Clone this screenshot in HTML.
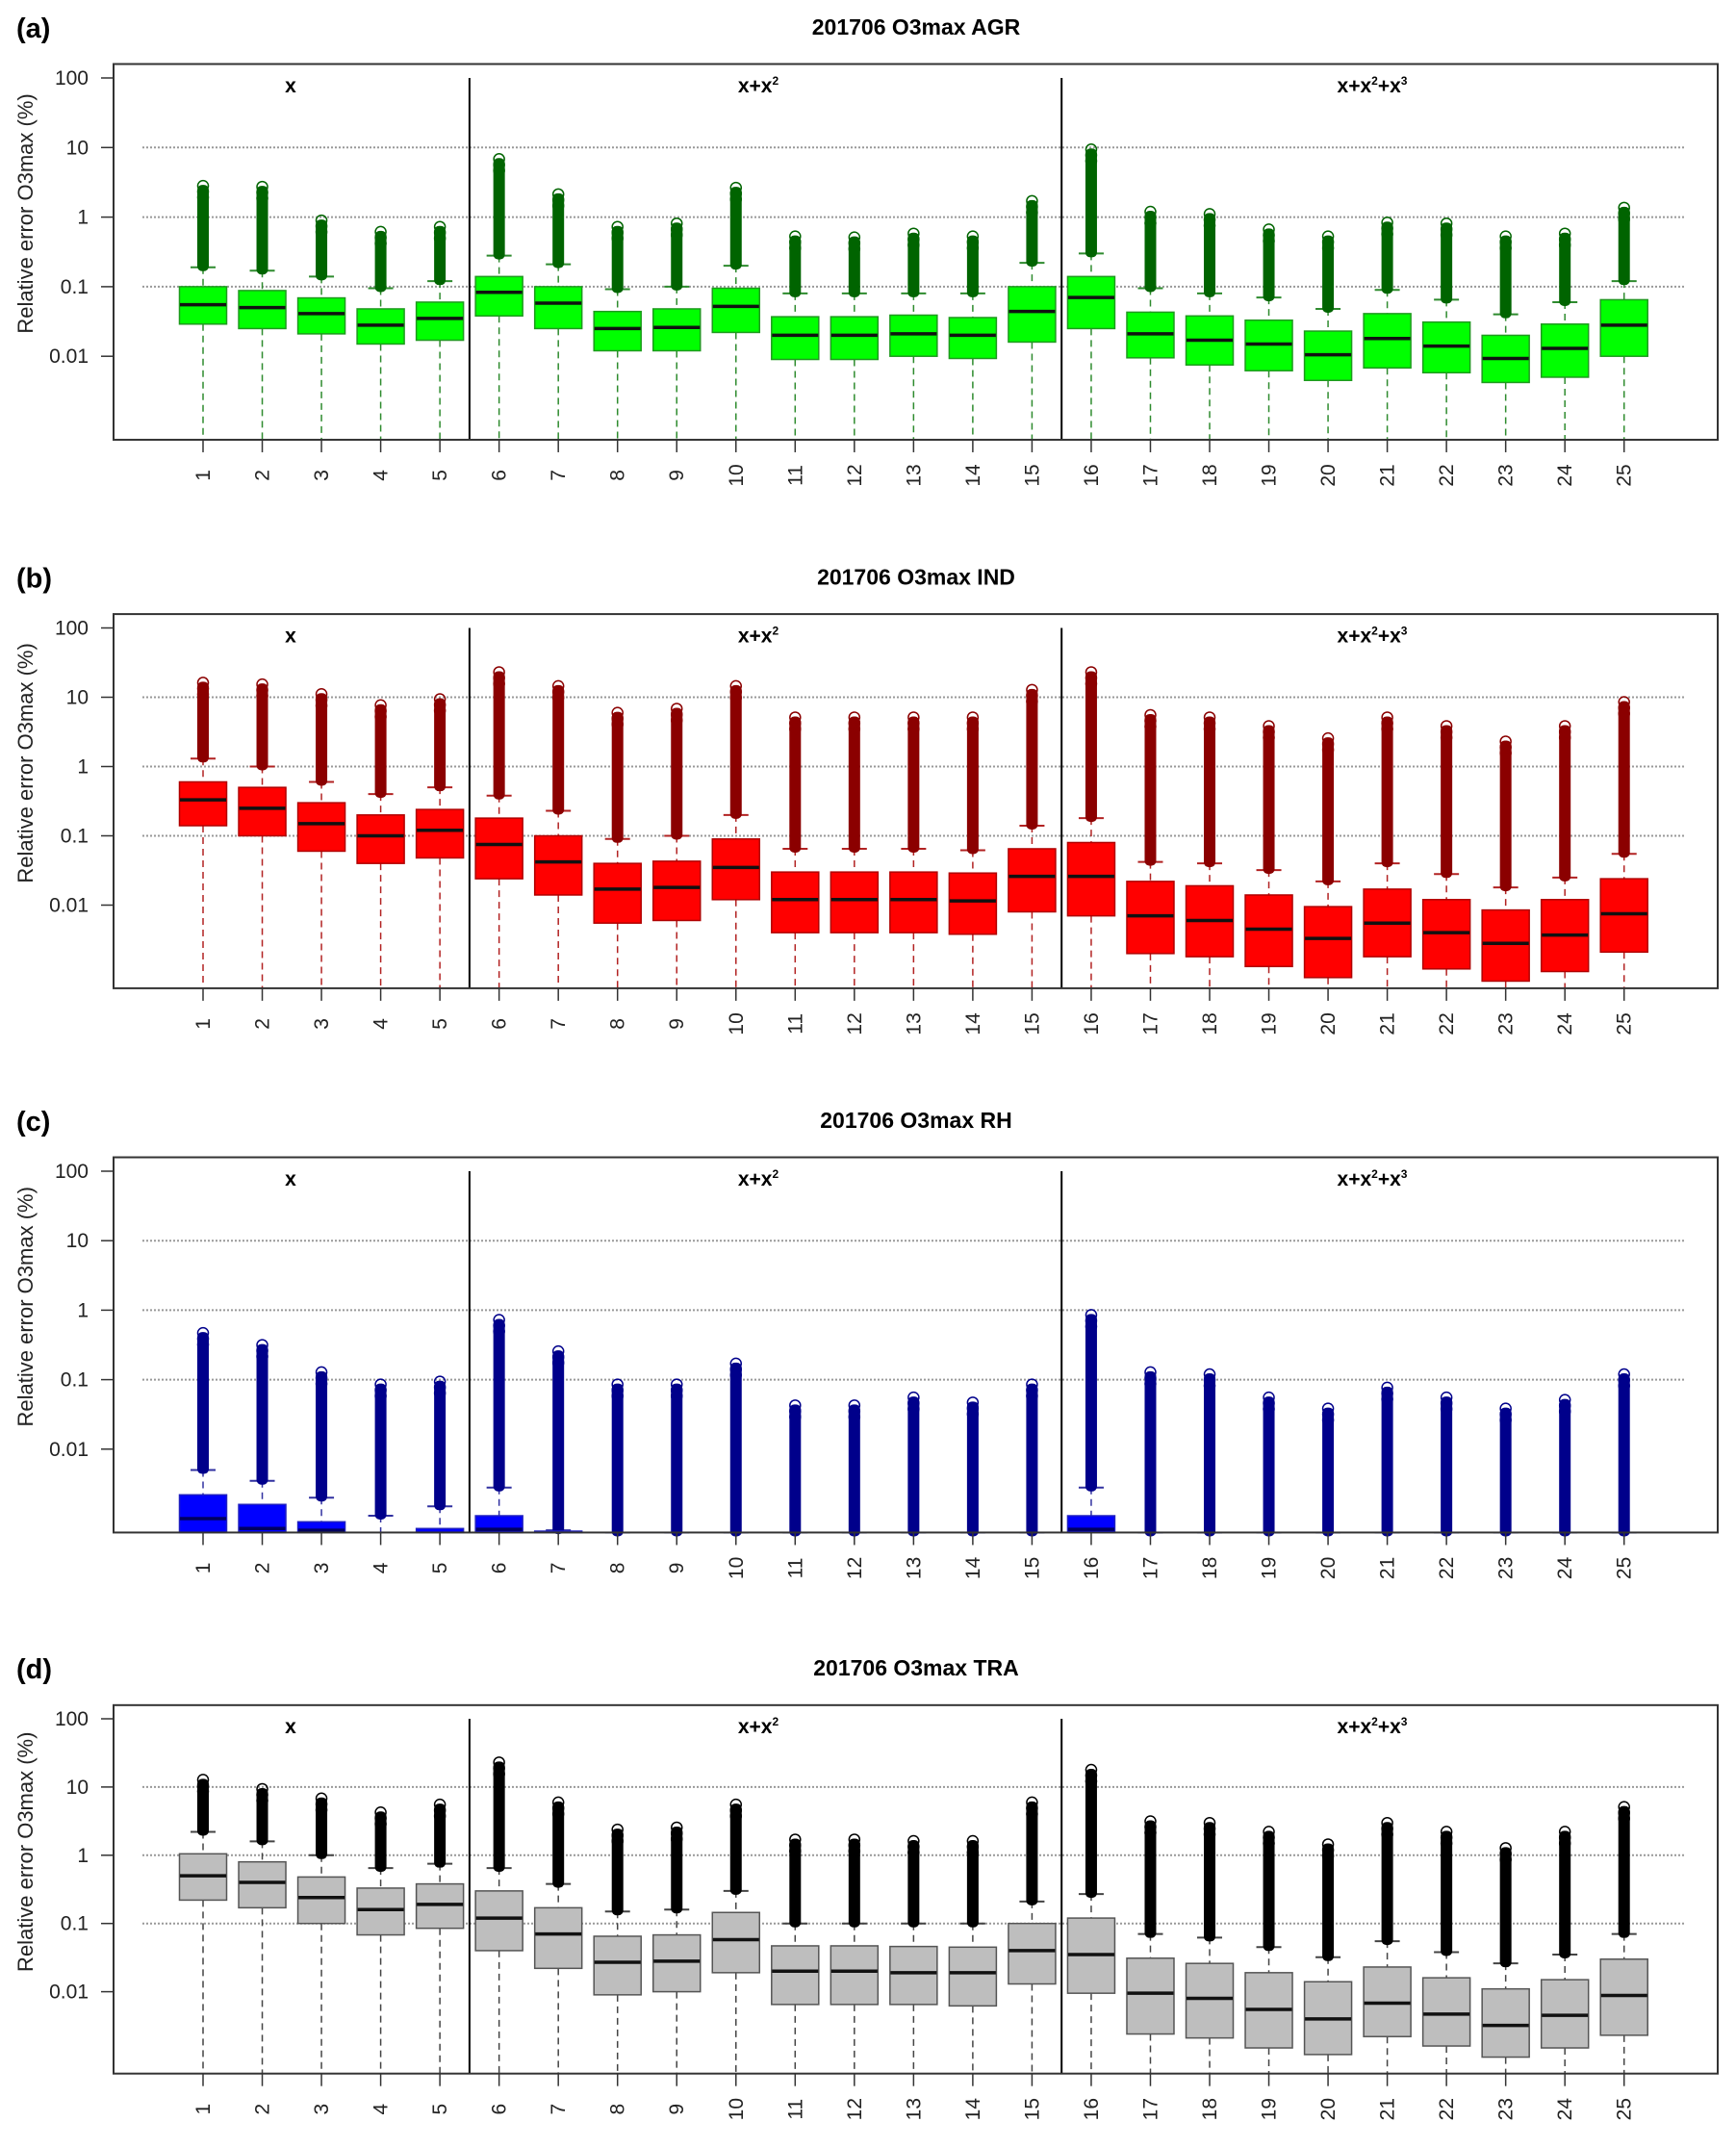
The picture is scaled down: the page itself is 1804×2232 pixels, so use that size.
<!DOCTYPE html>
<html><head><meta charset="utf-8"><style>
html,body{margin:0;padding:0;background:#fff;}
svg{display:block;font-family:"Liberation Sans",Arial,sans-serif;}
</style></head><body>
<svg id="fig" width="1804" height="2232" viewBox="0 0 1804 2232" xmlns="http://www.w3.org/2000/svg"></svg>
<script>
// ---- data: per box [q1, median, q3, upper whisker, max outlier]
const categories = ["1","2","3","4","5","6","7","8","9","10","11","12","13","14","15","16","17","18","19","20","21","22","23","24","25"];
const yTickValues = [100, 10, 1, 0.1, 0.01];
const yTickLabels = ["100", "10", "1", "0.1", "0.01"];
const panelLetters = ["(a)", "(b)", "(c)", "(d)"];
const panelTitles = ["201706 O3max AGR", "201706 O3max IND", "201706 O3max RH", "201706 O3max TRA"];
const agrQ1 = [.029,.025,.021,.015,.017,.038,.025,.012,.012,.022,.009,.009,.01,.0093,.016,.025,.0095,.0075,.0062,.0045,.0068,.0058,.0042,.005,.01];
const agrMed = [.055,.05,.041,.028,.035,.083,.058,.025,.026,.052,.02,.02,.021,.02,.044,.07,.021,.017,.015,.0105,.018,.014,.0093,.013,.028];
const agrQ3 = [.1,.088,.069,.048,.06,.14,.1,.044,.048,.095,.037,.037,.039,.036,.1,.14,.043,.038,.033,.023,.041,.031,.02,.029,.065];
const agrWhi = [.19,.17,.14,.095,.12,.28,.21,.092,.1,.2,.08,.08,.08,.08,.22,.3,.095,.08,.07,.048,.09,.065,.04,.06,.12];
const agrMax = [3.3,3.2,1.05,.72,.85,8,2.5,.85,.95,3.1,.62,.6,.68,.62,2.0,11,1.4,1.3,.78,.62,.98,.95,.62,.68,1.6];
const indQ1 = [.14,.1,.06,.04,.048,.024,.014,.0055,.006,.012,.004,.004,.004,.0038,.008,.007,.002,.0018,.0013,.0009,.0018,.0012,.0008,.0011,.0021];
const indMed = [.33,.25,.15,.1,.12,.075,.042,.017,.018,.035,.012,.012,.012,.0115,.026,.026,.007,.006,.0045,.0033,.0055,.004,.0028,.0037,.0075];
const indQ3 = [.6,.5,.3,.2,.24,.18,.1,.04,.043,.09,.03,.03,.03,.029,.065,.08,.022,.019,.014,.0095,.017,.012,.0085,.012,.024];
const indWhi = [1.3,1.0,.6,.4,.5,.38,.23,.09,.1,.2,.065,.065,.065,.062,.14,.18,.042,.04,.032,.022,.04,.028,.018,.025,.055];
const indMax = [19,18,13,9,11,27,17,7,8,17,6,6,6,6,15,27,6.5,6,4.5,3,6,4.5,2.7,4.5,10];
const rhQ1 = [.0002,.0002,.0002,.0002,.0002,.0002,.0002,.0002,.0002,.0002,.0002,.0002,.0002,.0002,.0002,.0002,.0002,.0002,.0002,.0002,.0002,.0002,.0002,.0002,.0002];
const rhMed = [.001,.00072,.00068,.0003,.0003,.0007,.0003,.0003,.0003,.0003,.0003,.0003,.0003,.0003,.0003,.0007,.0003,.0003,.0003,.0003,.0003,.0003,.0003,.0003,.0003];
const rhQ3 = [.0022,.0016,.0009,.00063,.00072,.0011,.00066,.0003,.0003,.0003,.0003,.0003,.0003,.0003,.0003,.0011,.0003,.0003,.0003,.0003,.0003,.0003,.0003,.0003,.0003];
const rhWhi = [.005,.0035,.002,.0011,.0015,.0028,.00068,.0003,.0003,.0003,.0003,.0003,.0003,.0003,.0003,.0028,.0003,.0003,.0003,.0003,.0003,.0003,.0003,.0003,.0003];
const rhMax = [.55,.37,.15,.1,.11,.85,.3,.1,.1,.2,.05,.05,.065,.055,.1,1.0,.15,.14,.065,.045,.09,.065,.045,.06,.14];
const traQ1 = [.22,.17,.1,.068,.085,.04,.022,.009,.01,.019,.0065,.0065,.0065,.0062,.013,.0095,.0024,.0021,.0015,.0012,.0022,.0016,.0011,.0015,.0023];
const traMed = [.5,.4,.24,.16,.19,.12,.07,.027,.028,.058,.02,.02,.019,.019,.04,.035,.0095,.008,.0055,.004,.0068,.0047,.0032,.0045,.0088];
const traQ3 = [1.05,.8,.48,.33,.38,.3,.17,.065,.068,.145,.047,.047,.046,.045,.1,.12,.031,.026,.019,.014,.023,.016,.011,.015,.03];
const traWhi = [2.2,1.6,1.0,.65,.75,.65,.38,.15,.16,.3,.1,.1,.1,.1,.21,.27,.07,.062,.045,.032,.055,.038,.026,.035,.07];
const traMax = [15,11,8,5,6.5,27,7,2.8,3,6.5,2,2,1.9,1.9,7,21,3.7,3.5,2.6,1.7,3.5,2.6,1.5,2.6,6];

const NS = "http://www.w3.org/2000/svg";
const svg = document.getElementById("fig");
function mk(tag, attrs, parent, text){
  const e = document.createElementNS(NS, tag);
  for (const k in attrs) e.setAttribute(k, attrs[k]);
  if (text !== undefined) e.textContent = text;
  (parent || svg).appendChild(e);
  return e;
}
const panels = [
  {y100:81, dec:72.3, q1:agrQ1, med:agrMed, q3:agrQ3, whi:agrWhi, max:agrMax, fill:"#00ff00", dark:"#006400", border:"#1e9a1e", wh:"#2e8b2e"},
  {y100:652.5, dec:72, q1:indQ1, med:indMed, q3:indQ3, whi:indWhi, max:indMax, fill:"#ff0000", dark:"#8b0000", border:"#b00000", wh:"#b22222"},
  {y100:1217, dec:72.2, q1:rhQ1, med:rhMed, q3:rhQ3, whi:rhWhi, max:rhMax, fill:"#0000ff", dark:"#00008b", border:"#2020c0", wh:"#3030a0"},
  {y100:1786, dec:70.9, q1:traQ1, med:traMed, q3:traQ3, whi:traWhi, max:traMax, fill:"#bebebe", dark:"#000000", border:"#555555", wh:"#444444"}
];
const L = 118, R = 1785;
function xPos(i){ return 211 + i * 61.53; }

panels.forEach((p, pi) => {
  const top = p.y100 - 0.2 * p.dec, bot = p.y100 + 5.2 * p.dec;
  function yPos(v){ const y = p.y100 + (2 - Math.log10(v)) * p.dec; return Math.min(Math.max(y, top), bot); }
  const g = mk("g", {});
  
  

  const letter = mk("text", {x:17, y:p.y100 - 42, "font-size":29, "font-weight":"bold"}, g, panelLetters[pi]);
  
  
  const title = mk("text", {x:952, y:p.y100 - 45, "font-size":23, "font-weight":"bold", "text-anchor":"middle"}, g, panelTitles[pi]);
  
  

  [10, 1, 0.1].forEach(v => {
    const gl = mk("line", {x1:148, x2:1750, y1:yPos(v), y2:yPos(v), stroke:"#999", "stroke-width":2, "stroke-dasharray":"2,2"}, g);
    
    
  });
  [4.5, 14.5].forEach(s => {
    const sl = mk("line", {x1:xPos(s), x2:xPos(s), y1:p.y100, y2:bot, stroke:"#000", "stroke-width":2}, g);
    
    
  });
  const gl1 = mk("text", {x:302, y:p.y100 + 15, "font-size":21, "font-weight":"bold", "text-anchor":"middle"}, g, "x");
  
  
  const gl2 = mk("text", {x:788, y:p.y100 + 15, "font-size":21, "font-weight":"bold", "text-anchor":"middle"}, g);
  
  
  gl2.innerHTML = 'x+x<tspan dy="-8" font-size="12">2</tspan>';
  const gl3 = mk("text", {x:1426, y:p.y100 + 15, "font-size":21, "font-weight":"bold", "text-anchor":"middle"}, g);
  
  
  gl3.innerHTML = 'x+x<tspan dy="-8" font-size="12">2</tspan><tspan dy="8">+x</tspan><tspan dy="-8" font-size="12">3</tspan>';

  categories.forEach((c, i) => {
    const x = xPos(i);
    const bg = mk("g", {}, g);
    
    
    const yq1 = yPos(p.q1[i]), yq3 = yPos(p.q3[i]), ym = yPos(p.med[i]), yw = yPos(p.whi[i]), ymx = yPos(p.max[i]);
    mk("line", {x1:x, x2:x, y1:yq1, y2:bot, stroke:p.wh, "stroke-width":1.5, "stroke-dasharray":"7,5"}, bg);
    mk("line", {x1:x, x2:x, y1:yw, y2:yq3, stroke:p.wh, "stroke-width":1.5, "stroke-dasharray":"7,5"}, bg);
    mk("line", {x1:x - 13, x2:x + 13, y1:yw, y2:yw, stroke:p.wh, "stroke-width":2}, bg);
    if (ymx < yw) {
      mk("rect", {x:x - 6, y:ymx + 4, width:12, height:yw - ymx, rx:5, fill:p.dark}, bg);
      mk("circle", {cx:x, cy:ymx + 5, r:5.5, fill:"none", stroke:p.dark, "stroke-width":1.5}, bg);
      mk("circle", {cx:x, cy:ymx + 11, r:5.5, fill:"none", stroke:p.dark, "stroke-width":1.5}, bg);
      mk("circle", {cx:x, cy:ymx + 17, r:5.5, fill:"none", stroke:p.dark, "stroke-width":1.5}, bg);
    }
    if (yq1 - yq3 > 0.5) mk("rect", {x:x - 24.5, y:yq3, width:49, height:yq1 - yq3, fill:p.fill, stroke:p.border, "stroke-width":1.5}, bg);
    if (ym < bot - 1) mk("line", {x1:x - 24, x2:x + 24, y1:ym, y2:ym, stroke:pi === 2 ? "#000060" : "#111", "stroke-width":3.5}, bg);
  });

  const fr = mk("rect", {x:L, y:top, width:R - L, height:bot - top, fill:"none", stroke:"#333", "stroke-width":2}, g);
  
  

  yTickValues.forEach((v, k) => {
    const y = yPos(v);
    mk("line", {x1:L - 13, x2:L, y1:y, y2:y, stroke:"#333", "stroke-width":1.5}, g);
    const t = mk("text", {x:92, y:y + 7, "font-size":21, "text-anchor":"end", fill:"#222"}, g, yTickLabels[k]);
    
    
  });
  categories.forEach((c, i) => {
    const x = xPos(i);
    mk("line", {x1:x, x2:x, y1:bot, y2:bot + 13, stroke:"#333", "stroke-width":1.5}, g);
    const t = mk("text", {x:0, y:0, "font-size":21, "text-anchor":"middle", fill:"#222",
      transform:"translate(" + (x + 7) + "," + (bot + 37) + ") rotate(-90)"}, g, c);
    
    
  });
  const yt = mk("text", {x:0, y:0, "font-size":22, "text-anchor":"middle", fill:"#222",
    transform:"translate(34," + (p.y100 + 1.95 * p.dec) + ") rotate(-90)"}, g, "Relative error O3max (%)");
  
  
});
</script>
</body></html>
